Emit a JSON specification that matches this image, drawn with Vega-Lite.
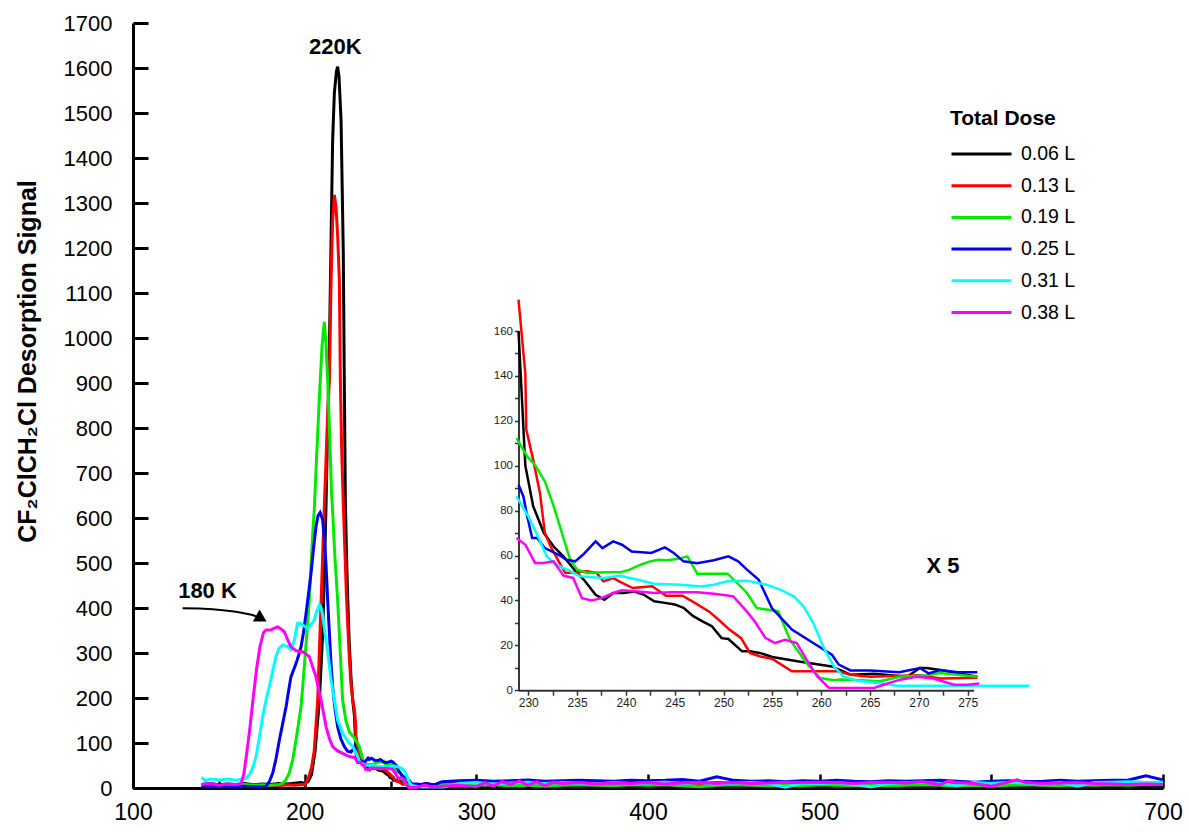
{
"$schema": "https://vega.github.io/schema/vega-lite/v6.json",
"width": 1030, "height": 765,
"autosize": "none",
"padding": {"left": 133, "top": 23, "right": 26, "bottom": 44},
"background": "white",
"config": {"view": {"stroke": null}, "font": "Liberation Sans", "axis": {"grid": false}},
"datasets": {
"main": [
{"dose":"0.06 L","T":140,"S":8},{"dose":"0.06 L","T":145,"S":10},{"dose":"0.06 L","T":150,"S":7},{"dose":"0.06 L","T":155,"S":9},{"dose":"0.06 L","T":160,"S":8},{"dose":"0.06 L","T":165,"S":10},{"dose":"0.06 L","T":170,"S":7},{"dose":"0.06 L","T":175,"S":9},{"dose":"0.06 L","T":180,"S":8},{"dose":"0.06 L","T":185,"S":10},{"dose":"0.06 L","T":190,"S":9},{"dose":"0.06 L","T":195,"S":11},{"dose":"0.06 L","T":198,"S":12},{"dose":"0.06 L","T":200,"S":10},{"dose":"0.06 L","T":202,"S":14},{"dose":"0.06 L","T":204,"S":30},{"dose":"0.06 L","T":206,"S":80},{"dose":"0.06 L","T":208.6,"S":196},{"dose":"0.06 L","T":210.5,"S":344},{"dose":"0.06 L","T":211.5,"S":480},{"dose":"0.06 L","T":212.5,"S":640},{"dose":"0.06 L","T":213.5,"S":820},{"dose":"0.06 L","T":214.5,"S":1000},{"dose":"0.06 L","T":215.5,"S":1250},{"dose":"0.06 L","T":216.3,"S":1440},{"dose":"0.06 L","T":217.3,"S":1545},{"dose":"0.06 L","T":218.5,"S":1592},{"dose":"0.06 L","T":219.2,"S":1603},{"dose":"0.06 L","T":220,"S":1582},{"dose":"0.06 L","T":221.2,"S":1484},{"dose":"0.06 L","T":222.5,"S":1189},{"dose":"0.06 L","T":223.1,"S":900},{"dose":"0.06 L","T":223.7,"S":640},{"dose":"0.06 L","T":224.3,"S":530},{"dose":"0.06 L","T":225,"S":430},{"dose":"0.06 L","T":226,"S":320},{"dose":"0.06 L","T":227,"S":245},{"dose":"0.06 L","T":228,"S":195},{"dose":"0.06 L","T":229,"S":160},{"dose":"0.06 L","T":229.7,"S":100},{"dose":"0.06 L","T":230.5,"S":82},{"dose":"0.06 L","T":231.6,"S":70},{"dose":"0.06 L","T":232.6,"S":64},{"dose":"0.06 L","T":233.6,"S":59.6},{"dose":"0.06 L","T":235,"S":52.2},{"dose":"0.06 L","T":235.7,"S":49.2},{"dose":"0.06 L","T":236.9,"S":42.5},{"dose":"0.06 L","T":237.8,"S":40.3},{"dose":"0.06 L","T":238.7,"S":43.3},{"dose":"0.06 L","T":239.8,"S":43.3},{"dose":"0.06 L","T":240.8,"S":44},{"dose":"0.06 L","T":241.8,"S":42.6},{"dose":"0.06 L","T":242.9,"S":39.6},{"dose":"0.06 L","T":244,"S":38.9},{"dose":"0.06 L","T":245,"S":38.2},{"dose":"0.06 L","T":245.9,"S":36.7},{"dose":"0.06 L","T":246.9,"S":33},{"dose":"0.06 L","T":247.8,"S":30.8},{"dose":"0.06 L","T":248.8,"S":28.5},{"dose":"0.06 L","T":249.8,"S":23.2},{"dose":"0.06 L","T":250.5,"S":22.8},{"dose":"0.06 L","T":251.9,"S":17.3},{"dose":"0.06 L","T":252.7,"S":17.3},{"dose":"0.06 L","T":253.7,"S":16.6},{"dose":"0.06 L","T":255,"S":14.8},{"dose":"0.06 L","T":257.7,"S":12.8},{"dose":"0.06 L","T":261.1,"S":10.6},{"dose":"0.06 L","T":263,"S":6.9},{"dose":"0.06 L","T":265.4,"S":7.3},{"dose":"0.06 L","T":268.8,"S":6},{"dose":"0.06 L","T":270.1,"S":9.9},{"dose":"0.06 L","T":270.8,"S":9.9},{"dose":"0.06 L","T":272.2,"S":9},{"dose":"0.06 L","T":276,"S":6},
{"dose":"0.06 L","T":280,"S":6},{"dose":"0.06 L","T":290,"S":5},{"dose":"0.06 L","T":300,"S":4},{"dose":"0.06 L","T":310,"S":6},{"dose":"0.06 L","T":320,"S":5},{"dose":"0.06 L","T":330,"S":4},{"dose":"0.06 L","T":340,"S":6},{"dose":"0.06 L","T":350,"S":5},{"dose":"0.06 L","T":360,"S":4},{"dose":"0.06 L","T":370,"S":5},{"dose":"0.06 L","T":380,"S":6},{"dose":"0.06 L","T":390,"S":4},{"dose":"0.06 L","T":400,"S":5},{"dose":"0.06 L","T":410,"S":6},{"dose":"0.06 L","T":420,"S":4},{"dose":"0.06 L","T":430,"S":5},{"dose":"0.06 L","T":440,"S":6},{"dose":"0.06 L","T":450,"S":4},{"dose":"0.06 L","T":460,"S":5},{"dose":"0.06 L","T":470,"S":5},{"dose":"0.06 L","T":480,"S":4},{"dose":"0.06 L","T":490,"S":6},{"dose":"0.06 L","T":500,"S":5},{"dose":"0.06 L","T":510,"S":4},{"dose":"0.06 L","T":520,"S":5},{"dose":"0.06 L","T":530,"S":6},{"dose":"0.06 L","T":540,"S":4},{"dose":"0.06 L","T":550,"S":5},{"dose":"0.06 L","T":560,"S":5},{"dose":"0.06 L","T":570,"S":4},{"dose":"0.06 L","T":580,"S":6},{"dose":"0.06 L","T":590,"S":5},{"dose":"0.06 L","T":600,"S":4},{"dose":"0.06 L","T":610,"S":5},{"dose":"0.06 L","T":620,"S":6},{"dose":"0.06 L","T":630,"S":4},{"dose":"0.06 L","T":640,"S":5},{"dose":"0.06 L","T":650,"S":6},{"dose":"0.06 L","T":660,"S":4},{"dose":"0.06 L","T":670,"S":5},{"dose":"0.06 L","T":680,"S":6},{"dose":"0.06 L","T":690,"S":5},{"dose":"0.06 L","T":700,"S":5},

{"dose":"0.13 L","T":140,"S":5},{"dose":"0.13 L","T":145,"S":7},{"dose":"0.13 L","T":150,"S":6},{"dose":"0.13 L","T":155,"S":4},{"dose":"0.13 L","T":160,"S":6},{"dose":"0.13 L","T":165,"S":5},{"dose":"0.13 L","T":170,"S":7},{"dose":"0.13 L","T":175,"S":5},{"dose":"0.13 L","T":180,"S":6},{"dose":"0.13 L","T":185,"S":5},{"dose":"0.13 L","T":190,"S":7},{"dose":"0.13 L","T":195,"S":6},{"dose":"0.13 L","T":198,"S":8},{"dose":"0.13 L","T":200,"S":7},{"dose":"0.13 L","T":202,"S":20},{"dose":"0.13 L","T":204,"S":45},{"dose":"0.13 L","T":205.6,"S":84},{"dose":"0.13 L","T":207.6,"S":196},{"dose":"0.13 L","T":209.6,"S":418},{"dose":"0.13 L","T":211.5,"S":630},{"dose":"0.13 L","T":213,"S":790},{"dose":"0.13 L","T":214.4,"S":907},{"dose":"0.13 L","T":215.4,"S":1129},{"dose":"0.13 L","T":216.3,"S":1260},{"dose":"0.13 L","T":217.3,"S":1318},{"dose":"0.13 L","T":218.3,"S":1290},{"dose":"0.13 L","T":219.3,"S":1220},{"dose":"0.13 L","T":220.2,"S":1129},{"dose":"0.13 L","T":220.8,"S":907},{"dose":"0.13 L","T":221.5,"S":760},{"dose":"0.13 L","T":222.5,"S":630},{"dose":"0.13 L","T":223.5,"S":520},{"dose":"0.13 L","T":224.3,"S":430},{"dose":"0.13 L","T":225,"S":370},{"dose":"0.13 L","T":226,"S":290},{"dose":"0.13 L","T":227,"S":230},{"dose":"0.13 L","T":228,"S":195},{"dose":"0.13 L","T":229,"S":174},{"dose":"0.13 L","T":229.7,"S":141},{"dose":"0.13 L","T":229.8,"S":116},{"dose":"0.13 L","T":230.5,"S":102.7},{"dose":"0.13 L","T":231.2,"S":87.8},{"dose":"0.13 L","T":231.7,"S":70},{"dose":"0.13 L","T":232.3,"S":64},{"dose":"0.13 L","T":233.3,"S":55.9},{"dose":"0.13 L","T":233.8,"S":52.2},{"dose":"0.13 L","T":235,"S":52.5},{"dose":"0.13 L","T":236,"S":53},{"dose":"0.13 L","T":237,"S":52.2},{"dose":"0.13 L","T":237.7,"S":48.5},{"dose":"0.13 L","T":238.7,"S":50},{"dose":"0.13 L","T":239.3,"S":48.5},{"dose":"0.13 L","T":240.7,"S":45.5},{"dose":"0.13 L","T":242.7,"S":46.3},{"dose":"0.13 L","T":244.1,"S":42.1},{"dose":"0.13 L","T":245.8,"S":42.1},{"dose":"0.13 L","T":247.1,"S":38.8},{"dose":"0.13 L","T":248.5,"S":35.1},{"dose":"0.13 L","T":249.5,"S":31.4},{"dose":"0.13 L","T":250.6,"S":27},{"dose":"0.13 L","T":251.8,"S":23.2},{"dose":"0.13 L","T":252.7,"S":16.6},{"dose":"0.13 L","T":253.7,"S":15.1},{"dose":"0.13 L","T":255,"S":13.9},{"dose":"0.13 L","T":257,"S":8.4},{"dose":"0.13 L","T":261.7,"S":8.4},{"dose":"0.13 L","T":263,"S":6.9},{"dose":"0.13 L","T":265,"S":6},{"dose":"0.13 L","T":270.1,"S":6.7},{"dose":"0.13 L","T":272.2,"S":5.2},{"dose":"0.13 L","T":276,"S":5.5},
{"dose":"0.13 L","T":280,"S":12},{"dose":"0.13 L","T":290,"S":10},{"dose":"0.13 L","T":300,"S":8},{"dose":"0.13 L","T":310,"S":10},{"dose":"0.13 L","T":320,"S":13},{"dose":"0.13 L","T":330,"S":11},{"dose":"0.13 L","T":340,"S":12},{"dose":"0.13 L","T":350,"S":10},{"dose":"0.13 L","T":360,"S":12},{"dose":"0.13 L","T":370,"S":14},{"dose":"0.13 L","T":380,"S":11},{"dose":"0.13 L","T":390,"S":12},{"dose":"0.13 L","T":400,"S":13},{"dose":"0.13 L","T":410,"S":11},{"dose":"0.13 L","T":420,"S":12},{"dose":"0.13 L","T":430,"S":10},{"dose":"0.13 L","T":440,"S":12},{"dose":"0.13 L","T":450,"S":11},{"dose":"0.13 L","T":460,"S":13},{"dose":"0.13 L","T":470,"S":12},{"dose":"0.13 L","T":480,"S":10},{"dose":"0.13 L","T":490,"S":14},{"dose":"0.13 L","T":500,"S":12},{"dose":"0.13 L","T":510,"S":11},{"dose":"0.13 L","T":520,"S":12},{"dose":"0.13 L","T":530,"S":13},{"dose":"0.13 L","T":540,"S":11},{"dose":"0.13 L","T":550,"S":10},{"dose":"0.13 L","T":560,"S":12},{"dose":"0.13 L","T":570,"S":11},{"dose":"0.13 L","T":580,"S":12},{"dose":"0.13 L","T":590,"S":10},{"dose":"0.13 L","T":600,"S":11},{"dose":"0.13 L","T":610,"S":12},{"dose":"0.13 L","T":620,"S":15},{"dose":"0.13 L","T":630,"S":11},{"dose":"0.13 L","T":640,"S":12},{"dose":"0.13 L","T":650,"S":13},{"dose":"0.13 L","T":660,"S":11},{"dose":"0.13 L","T":670,"S":12},{"dose":"0.13 L","T":680,"S":13},{"dose":"0.13 L","T":690,"S":12},{"dose":"0.13 L","T":700,"S":11},

{"dose":"0.19 L","T":140,"S":6},{"dose":"0.19 L","T":145,"S":8},{"dose":"0.19 L","T":150,"S":5},{"dose":"0.19 L","T":155,"S":7},{"dose":"0.19 L","T":160,"S":6},{"dose":"0.19 L","T":165,"S":8},{"dose":"0.19 L","T":170,"S":6},{"dose":"0.19 L","T":175,"S":7},{"dose":"0.19 L","T":180,"S":6},{"dose":"0.19 L","T":185,"S":8},{"dose":"0.19 L","T":187.2,"S":10},{"dose":"0.19 L","T":189,"S":18},{"dose":"0.19 L","T":191,"S":33},{"dose":"0.19 L","T":193,"S":62},{"dose":"0.19 L","T":195,"S":107},{"dose":"0.19 L","T":197.9,"S":181},{"dose":"0.19 L","T":199.8,"S":270},{"dose":"0.19 L","T":201.3,"S":345},{"dose":"0.19 L","T":202.7,"S":418},{"dose":"0.19 L","T":204.7,"S":566},{"dose":"0.19 L","T":205.6,"S":618},{"dose":"0.19 L","T":207,"S":740},{"dose":"0.19 L","T":208.6,"S":870},{"dose":"0.19 L","T":210.1,"S":981},{"dose":"0.19 L","T":211.4,"S":1036},{"dose":"0.19 L","T":212.3,"S":995},{"dose":"0.19 L","T":213.4,"S":907},{"dose":"0.19 L","T":214.8,"S":758},{"dose":"0.19 L","T":215.6,"S":660},{"dose":"0.19 L","T":216.5,"S":600},{"dose":"0.19 L","T":217.5,"S":520},{"dose":"0.19 L","T":219.2,"S":418},{"dose":"0.19 L","T":220.5,"S":320},{"dose":"0.19 L","T":222.1,"S":196},{"dose":"0.19 L","T":224,"S":150},{"dose":"0.19 L","T":226,"S":125},{"dose":"0.19 L","T":228,"S":115},{"dose":"0.19 L","T":228.8,"S":112.3},{"dose":"0.19 L","T":229.9,"S":104},{"dose":"0.19 L","T":230.7,"S":100.3},{"dose":"0.19 L","T":231.7,"S":93},{"dose":"0.19 L","T":232.6,"S":82},{"dose":"0.19 L","T":233.6,"S":67.8},{"dose":"0.19 L","T":234.3,"S":58.1},{"dose":"0.19 L","T":235,"S":53.7},{"dose":"0.19 L","T":236,"S":52.2},{"dose":"0.19 L","T":238.1,"S":52.5},{"dose":"0.19 L","T":239.4,"S":52.5},{"dose":"0.19 L","T":240.4,"S":53.7},{"dose":"0.19 L","T":241.5,"S":55.9},{"dose":"0.19 L","T":242.5,"S":57.4},{"dose":"0.19 L","T":243.3,"S":58.1},{"dose":"0.19 L","T":244.2,"S":57.9},{"dose":"0.19 L","T":245.2,"S":58.4},{"dose":"0.19 L","T":246.3,"S":59.6},{"dose":"0.19 L","T":247.3,"S":51.9},{"dose":"0.19 L","T":248.3,"S":51.9},{"dose":"0.19 L","T":250.4,"S":51.9},{"dose":"0.19 L","T":251.4,"S":47.7},{"dose":"0.19 L","T":252.4,"S":43.3},{"dose":"0.19 L","T":253.4,"S":36.6},{"dose":"0.19 L","T":255.6,"S":35.1},{"dose":"0.19 L","T":256.8,"S":22.5},{"dose":"0.19 L","T":258.5,"S":12},{"dose":"0.19 L","T":259.9,"S":5.4},{"dose":"0.19 L","T":261.3,"S":4.4},{"dose":"0.19 L","T":262,"S":4.8},{"dose":"0.19 L","T":264,"S":4.4},{"dose":"0.19 L","T":266,"S":4},{"dose":"0.19 L","T":268.1,"S":6},{"dose":"0.19 L","T":270.8,"S":6.7},{"dose":"0.19 L","T":272.2,"S":7.7},{"dose":"0.19 L","T":276,"S":6},
{"dose":"0.19 L","T":280,"S":7},{"dose":"0.19 L","T":290,"S":8},{"dose":"0.19 L","T":300,"S":6},{"dose":"0.19 L","T":310,"S":7},{"dose":"0.19 L","T":320,"S":5},{"dose":"0.19 L","T":330,"S":6},{"dose":"0.19 L","T":340,"S":4},{"dose":"0.19 L","T":350,"S":6},{"dose":"0.19 L","T":360,"S":7},{"dose":"0.19 L","T":370,"S":6},{"dose":"0.19 L","T":380,"S":5},{"dose":"0.19 L","T":390,"S":7},{"dose":"0.19 L","T":400,"S":6},{"dose":"0.19 L","T":410,"S":7},{"dose":"0.19 L","T":420,"S":5},{"dose":"0.19 L","T":430,"S":3},{"dose":"0.19 L","T":440,"S":6},{"dose":"0.19 L","T":450,"S":7},{"dose":"0.19 L","T":460,"S":6},{"dose":"0.19 L","T":470,"S":5},{"dose":"0.19 L","T":480,"S":6},{"dose":"0.19 L","T":490,"S":5},{"dose":"0.19 L","T":500,"S":7},{"dose":"0.19 L","T":510,"S":6},{"dose":"0.19 L","T":520,"S":5},{"dose":"0.19 L","T":530,"S":6},{"dose":"0.19 L","T":540,"S":5},{"dose":"0.19 L","T":550,"S":6},{"dose":"0.19 L","T":560,"S":7},{"dose":"0.19 L","T":570,"S":6},{"dose":"0.19 L","T":580,"S":5},{"dose":"0.19 L","T":590,"S":6},{"dose":"0.19 L","T":600,"S":4},{"dose":"0.19 L","T":610,"S":6},{"dose":"0.19 L","T":620,"S":7},{"dose":"0.19 L","T":630,"S":6},{"dose":"0.19 L","T":640,"S":5},{"dose":"0.19 L","T":650,"S":7},{"dose":"0.19 L","T":660,"S":6},{"dose":"0.19 L","T":670,"S":7},{"dose":"0.19 L","T":680,"S":6},{"dose":"0.19 L","T":690,"S":8},{"dose":"0.19 L","T":700,"S":9},

{"dose":"0.25 L","T":140,"S":4},{"dose":"0.25 L","T":145,"S":3},{"dose":"0.25 L","T":150,"S":5},{"dose":"0.25 L","T":155,"S":3},{"dose":"0.25 L","T":160,"S":2},{"dose":"0.25 L","T":165,"S":4},{"dose":"0.25 L","T":170,"S":3},{"dose":"0.25 L","T":175,"S":2},{"dose":"0.25 L","T":177.5,"S":4},{"dose":"0.25 L","T":179.5,"S":15},{"dose":"0.25 L","T":181.4,"S":33},{"dose":"0.25 L","T":183.3,"S":65},{"dose":"0.25 L","T":185.3,"S":107},{"dose":"0.25 L","T":187.3,"S":145},{"dose":"0.25 L","T":189.2,"S":181},{"dose":"0.25 L","T":190.6,"S":215},{"dose":"0.25 L","T":192,"S":247},{"dose":"0.25 L","T":193.5,"S":262},{"dose":"0.25 L","T":195,"S":277},{"dose":"0.25 L","T":196.5,"S":295},{"dose":"0.25 L","T":197.9,"S":314},{"dose":"0.25 L","T":199.3,"S":345},{"dose":"0.25 L","T":200.8,"S":388},{"dose":"0.25 L","T":202.2,"S":430},{"dose":"0.25 L","T":203.7,"S":477},{"dose":"0.25 L","T":205.1,"S":530},{"dose":"0.25 L","T":206.6,"S":581},{"dose":"0.25 L","T":207.8,"S":605},{"dose":"0.25 L","T":209,"S":612},{"dose":"0.25 L","T":210.5,"S":596},{"dose":"0.25 L","T":211.5,"S":550},{"dose":"0.25 L","T":212.5,"S":492},{"dose":"0.25 L","T":213.5,"S":410},{"dose":"0.25 L","T":214.4,"S":344},{"dose":"0.25 L","T":215.3,"S":280},{"dose":"0.25 L","T":216.3,"S":225},{"dose":"0.25 L","T":217.7,"S":175},{"dose":"0.25 L","T":219.2,"S":136},{"dose":"0.25 L","T":221,"S":110},{"dose":"0.25 L","T":223.1,"S":92},{"dose":"0.25 L","T":225,"S":82},{"dose":"0.25 L","T":227,"S":80},{"dose":"0.25 L","T":228.3,"S":86},{"dose":"0.25 L","T":229,"S":91.5},{"dose":"0.25 L","T":229.5,"S":86.3},{"dose":"0.25 L","T":229.9,"S":77.4},{"dose":"0.25 L","T":230.4,"S":67.8},{"dose":"0.25 L","T":230.9,"S":67.8},{"dose":"0.25 L","T":231.7,"S":63.3},{"dose":"0.25 L","T":232.4,"S":61.8},{"dose":"0.25 L","T":233.4,"S":59.6},{"dose":"0.25 L","T":233.9,"S":58.1},{"dose":"0.25 L","T":234.8,"S":57.4},{"dose":"0.25 L","T":235.6,"S":60.3},{"dose":"0.25 L","T":236.9,"S":66.3},{"dose":"0.25 L","T":237.6,"S":63.3},{"dose":"0.25 L","T":238.7,"S":66.3},{"dose":"0.25 L","T":239.6,"S":64.8},{"dose":"0.25 L","T":240.6,"S":61.8},{"dose":"0.25 L","T":242.6,"S":61.1},{"dose":"0.25 L","T":244,"S":63.6},{"dose":"0.25 L","T":244.9,"S":61.1},{"dose":"0.25 L","T":245.9,"S":57.4},{"dose":"0.25 L","T":247.3,"S":56.6},{"dose":"0.25 L","T":249,"S":57.9},{"dose":"0.25 L","T":250.5,"S":59.6},{"dose":"0.25 L","T":251.5,"S":57.4},{"dose":"0.25 L","T":252.4,"S":53.7},{"dose":"0.25 L","T":253.6,"S":49.2},{"dose":"0.25 L","T":254.95,"S":36.6},{"dose":"0.25 L","T":257,"S":27},{"dose":"0.25 L","T":260,"S":18.8},{"dose":"0.25 L","T":261.1,"S":15.8},{"dose":"0.25 L","T":261.8,"S":11.4},{"dose":"0.25 L","T":263,"S":8.8},{"dose":"0.25 L","T":265,"S":8.8},{"dose":"0.25 L","T":268,"S":8},{"dose":"0.25 L","T":270.1,"S":9.9},{"dose":"0.25 L","T":271,"S":7.5},{"dose":"0.25 L","T":272.2,"S":9},{"dose":"0.25 L","T":274,"S":8},{"dose":"0.25 L","T":276,"S":8},
{"dose":"0.25 L","T":280,"S":14},{"dose":"0.25 L","T":290,"S":16},{"dose":"0.25 L","T":300,"S":17},{"dose":"0.25 L","T":310,"S":15},{"dose":"0.25 L","T":320,"S":16},{"dose":"0.25 L","T":330,"S":18},{"dose":"0.25 L","T":340,"S":15},{"dose":"0.25 L","T":350,"S":16},{"dose":"0.25 L","T":360,"S":17},{"dose":"0.25 L","T":370,"S":16},{"dose":"0.25 L","T":380,"S":15},{"dose":"0.25 L","T":390,"S":17},{"dose":"0.25 L","T":400,"S":16},{"dose":"0.25 L","T":410,"S":17},{"dose":"0.25 L","T":420,"S":19},{"dose":"0.25 L","T":430,"S":15},{"dose":"0.25 L","T":440,"S":25},{"dose":"0.25 L","T":450,"S":17},{"dose":"0.25 L","T":460,"S":15},{"dose":"0.25 L","T":470,"S":16},{"dose":"0.25 L","T":480,"S":14},{"dose":"0.25 L","T":490,"S":16},{"dose":"0.25 L","T":500,"S":15},{"dose":"0.25 L","T":510,"S":17},{"dose":"0.25 L","T":520,"S":15},{"dose":"0.25 L","T":530,"S":14},{"dose":"0.25 L","T":540,"S":16},{"dose":"0.25 L","T":550,"S":15},{"dose":"0.25 L","T":560,"S":16},{"dose":"0.25 L","T":570,"S":17},{"dose":"0.25 L","T":580,"S":15},{"dose":"0.25 L","T":590,"S":13},{"dose":"0.25 L","T":600,"S":15},{"dose":"0.25 L","T":610,"S":16},{"dose":"0.25 L","T":620,"S":14},{"dose":"0.25 L","T":630,"S":15},{"dose":"0.25 L","T":640,"S":17},{"dose":"0.25 L","T":650,"S":15},{"dose":"0.25 L","T":660,"S":16},{"dose":"0.25 L","T":670,"S":17},{"dose":"0.25 L","T":680,"S":18},{"dose":"0.25 L","T":690,"S":27},{"dose":"0.25 L","T":700,"S":18},

{"dose":"0.31 L","T":140,"S":24},{"dose":"0.31 L","T":142,"S":16},{"dose":"0.31 L","T":145,"S":20},{"dose":"0.31 L","T":150,"S":18},{"dose":"0.31 L","T":155,"S":20},{"dose":"0.31 L","T":160,"S":17},{"dose":"0.31 L","T":163,"S":19},{"dose":"0.31 L","T":166,"S":22},{"dose":"0.31 L","T":168,"S":30},{"dose":"0.31 L","T":170,"S":48},{"dose":"0.31 L","T":171.7,"S":70},{"dose":"0.31 L","T":173.5,"S":110},{"dose":"0.31 L","T":175.5,"S":158},{"dose":"0.31 L","T":177.5,"S":195},{"dose":"0.31 L","T":179.4,"S":225},{"dose":"0.31 L","T":181.5,"S":262},{"dose":"0.31 L","T":183.3,"S":292},{"dose":"0.31 L","T":185,"S":310},{"dose":"0.31 L","T":187.2,"S":318},{"dose":"0.31 L","T":190.1,"S":314},{"dose":"0.31 L","T":192,"S":307},{"dose":"0.31 L","T":194,"S":329},{"dose":"0.31 L","T":195.9,"S":366},{"dose":"0.31 L","T":197.5,"S":366},{"dose":"0.31 L","T":198.8,"S":362},{"dose":"0.31 L","T":201.7,"S":355},{"dose":"0.31 L","T":203.5,"S":362},{"dose":"0.31 L","T":205.6,"S":373},{"dose":"0.31 L","T":207,"S":392},{"dose":"0.31 L","T":208.6,"S":407},{"dose":"0.31 L","T":209.6,"S":400},{"dose":"0.31 L","T":210.5,"S":384},{"dose":"0.31 L","T":212,"S":340},{"dose":"0.31 L","T":213.4,"S":303},{"dose":"0.31 L","T":215.4,"S":240},{"dose":"0.31 L","T":217.3,"S":196},{"dose":"0.31 L","T":219.2,"S":151},{"dose":"0.31 L","T":222.1,"S":122},{"dose":"0.31 L","T":224,"S":110},{"dose":"0.31 L","T":226,"S":100},{"dose":"0.31 L","T":228,"S":92},{"dose":"0.31 L","T":228.8,"S":86.3},{"dose":"0.31 L","T":230,"S":77.4},{"dose":"0.31 L","T":231,"S":68.5},{"dose":"0.31 L","T":231.9,"S":59.6},{"dose":"0.31 L","T":232.8,"S":55.9},{"dose":"0.31 L","T":234,"S":53.7},{"dose":"0.31 L","T":235.3,"S":50.7},{"dose":"0.31 L","T":237.7,"S":50},{"dose":"0.31 L","T":239.4,"S":51},{"dose":"0.31 L","T":241.2,"S":49.2},{"dose":"0.31 L","T":242.9,"S":47.4},{"dose":"0.31 L","T":245.6,"S":47},{"dose":"0.31 L","T":247.7,"S":46.2},{"dose":"0.31 L","T":249,"S":47},{"dose":"0.31 L","T":250.4,"S":48.5},{"dose":"0.31 L","T":252.4,"S":48.8},{"dose":"0.31 L","T":254.4,"S":47},{"dose":"0.31 L","T":255.8,"S":44.8},{"dose":"0.31 L","T":257.2,"S":41.8},{"dose":"0.31 L","T":258.2,"S":37.3},{"dose":"0.31 L","T":259.2,"S":29.9},{"dose":"0.31 L","T":260.2,"S":19.5},{"dose":"0.31 L","T":261.3,"S":10.6},{"dose":"0.31 L","T":262.3,"S":6.1},{"dose":"0.31 L","T":263.6,"S":4.3},{"dose":"0.31 L","T":266,"S":3.1},{"dose":"0.31 L","T":267.7,"S":2},{"dose":"0.31 L","T":281.3,"S":2},
{"dose":"0.31 L","T":290,"S":10},{"dose":"0.31 L","T":300,"S":12},{"dose":"0.31 L","T":310,"S":9},{"dose":"0.31 L","T":320,"S":11},{"dose":"0.31 L","T":330,"S":13},{"dose":"0.31 L","T":340,"S":10},{"dose":"0.31 L","T":350,"S":12},{"dose":"0.31 L","T":360,"S":11},{"dose":"0.31 L","T":370,"S":9},{"dose":"0.31 L","T":380,"S":12},{"dose":"0.31 L","T":390,"S":10},{"dose":"0.31 L","T":400,"S":11},{"dose":"0.31 L","T":410,"S":13},{"dose":"0.31 L","T":420,"S":10},{"dose":"0.31 L","T":430,"S":12},{"dose":"0.31 L","T":440,"S":9},{"dose":"0.31 L","T":450,"S":11},{"dose":"0.31 L","T":460,"S":12},{"dose":"0.31 L","T":470,"S":10},{"dose":"0.31 L","T":480,"S":2},{"dose":"0.31 L","T":490,"S":11},{"dose":"0.31 L","T":500,"S":10},{"dose":"0.31 L","T":510,"S":12},{"dose":"0.31 L","T":520,"S":8},{"dose":"0.31 L","T":530,"S":2},{"dose":"0.31 L","T":540,"S":10},{"dose":"0.31 L","T":550,"S":12},{"dose":"0.31 L","T":560,"S":13},{"dose":"0.31 L","T":570,"S":10},{"dose":"0.31 L","T":580,"S":5},{"dose":"0.31 L","T":590,"S":12},{"dose":"0.31 L","T":600,"S":10},{"dose":"0.31 L","T":610,"S":13},{"dose":"0.31 L","T":620,"S":11},{"dose":"0.31 L","T":630,"S":9},{"dose":"0.31 L","T":640,"S":12},{"dose":"0.31 L","T":650,"S":4},{"dose":"0.31 L","T":660,"S":12},{"dose":"0.31 L","T":670,"S":13},{"dose":"0.31 L","T":680,"S":14},{"dose":"0.31 L","T":690,"S":12},{"dose":"0.31 L","T":700,"S":13},

{"dose":"0.38 L","T":140,"S":8},{"dose":"0.38 L","T":145,"S":10},{"dose":"0.38 L","T":150,"S":6},{"dose":"0.38 L","T":155,"S":9},{"dose":"0.38 L","T":160,"S":7},{"dose":"0.38 L","T":163,"S":10},{"dose":"0.38 L","T":164.5,"S":30},{"dose":"0.38 L","T":166,"S":70},{"dose":"0.38 L","T":168,"S":130},{"dose":"0.38 L","T":170,"S":200},{"dose":"0.38 L","T":172,"S":265},{"dose":"0.38 L","T":174,"S":315},{"dose":"0.38 L","T":176,"S":345},{"dose":"0.38 L","T":177.5,"S":351},{"dose":"0.38 L","T":180.4,"S":351},{"dose":"0.38 L","T":182,"S":355},{"dose":"0.38 L","T":184.3,"S":358},{"dose":"0.38 L","T":186,"S":354},{"dose":"0.38 L","T":188.2,"S":347},{"dose":"0.38 L","T":190,"S":330},{"dose":"0.38 L","T":192,"S":314},{"dose":"0.38 L","T":195,"S":305},{"dose":"0.38 L","T":198.8,"S":303},{"dose":"0.38 L","T":202.7,"S":292},{"dose":"0.38 L","T":205,"S":265},{"dose":"0.38 L","T":206.6,"S":247},{"dose":"0.38 L","T":208,"S":222},{"dose":"0.38 L","T":209.5,"S":196},{"dose":"0.38 L","T":211,"S":166},{"dose":"0.38 L","T":212.5,"S":136},{"dose":"0.38 L","T":214.4,"S":110},{"dose":"0.38 L","T":216.3,"S":92},{"dose":"0.38 L","T":219,"S":83},{"dose":"0.38 L","T":222.1,"S":77},{"dose":"0.38 L","T":226,"S":70},{"dose":"0.38 L","T":228.8,"S":67.8},{"dose":"0.38 L","T":229.7,"S":64.8},{"dose":"0.38 L","T":230.7,"S":56.7},{"dose":"0.38 L","T":231.6,"S":56.7},{"dose":"0.38 L","T":232.6,"S":57.4},{"dose":"0.38 L","T":233.6,"S":51},{"dose":"0.38 L","T":234.6,"S":50},{"dose":"0.38 L","T":235.5,"S":41},{"dose":"0.38 L","T":236.5,"S":40},{"dose":"0.38 L","T":237.5,"S":41},{"dose":"0.38 L","T":238.7,"S":43.3},{"dose":"0.38 L","T":239.6,"S":44.5},{"dose":"0.38 L","T":241.2,"S":44},{"dose":"0.38 L","T":242.9,"S":43.3},{"dose":"0.38 L","T":244.6,"S":43.6},{"dose":"0.38 L","T":247.3,"S":43.6},{"dose":"0.38 L","T":249,"S":43},{"dose":"0.38 L","T":250.4,"S":42.2},{"dose":"0.38 L","T":251,"S":41.8},{"dose":"0.38 L","T":252.4,"S":35},{"dose":"0.38 L","T":253.2,"S":30.6},{"dose":"0.38 L","T":254.3,"S":23.2},{"dose":"0.38 L","T":255.3,"S":21},{"dose":"0.38 L","T":256.3,"S":22.5},{"dose":"0.38 L","T":257.5,"S":21},{"dose":"0.38 L","T":258.5,"S":13.6},{"dose":"0.38 L","T":259.6,"S":6.1},{"dose":"0.38 L","T":260.8,"S":1},{"dose":"0.38 L","T":265.4,"S":1},{"dose":"0.38 L","T":266.4,"S":2.4},{"dose":"0.38 L","T":268.1,"S":4.7},{"dose":"0.38 L","T":269.8,"S":6},{"dose":"0.38 L","T":271.5,"S":5.2},{"dose":"0.38 L","T":273.6,"S":2.4},{"dose":"0.38 L","T":275,"S":2.4},{"dose":"0.38 L","T":276.2,"S":3},
{"dose":"0.38 L","T":280,"S":4},{"dose":"0.38 L","T":290,"S":6},{"dose":"0.38 L","T":300,"S":3},{"dose":"0.38 L","T":305,"S":12},{"dose":"0.38 L","T":310,"S":4},{"dose":"0.38 L","T":315,"S":14},{"dose":"0.38 L","T":320,"S":8},{"dose":"0.38 L","T":325,"S":16},{"dose":"0.38 L","T":330,"S":6},{"dose":"0.38 L","T":335,"S":14},{"dose":"0.38 L","T":340,"S":5},{"dose":"0.38 L","T":345,"S":13},{"dose":"0.38 L","T":350,"S":10},{"dose":"0.38 L","T":360,"S":12},{"dose":"0.38 L","T":370,"S":9},{"dose":"0.38 L","T":380,"S":11},{"dose":"0.38 L","T":390,"S":10},{"dose":"0.38 L","T":400,"S":12},{"dose":"0.38 L","T":410,"S":9},{"dose":"0.38 L","T":420,"S":11},{"dose":"0.38 L","T":430,"S":13},{"dose":"0.38 L","T":440,"S":10},{"dose":"0.38 L","T":450,"S":12},{"dose":"0.38 L","T":460,"S":10},{"dose":"0.38 L","T":470,"S":11},{"dose":"0.38 L","T":480,"S":13},{"dose":"0.38 L","T":490,"S":12},{"dose":"0.38 L","T":500,"S":13},{"dose":"0.38 L","T":510,"S":12},{"dose":"0.38 L","T":520,"S":10},{"dose":"0.38 L","T":530,"S":12},{"dose":"0.38 L","T":540,"S":13},{"dose":"0.38 L","T":550,"S":11},{"dose":"0.38 L","T":560,"S":14},{"dose":"0.38 L","T":570,"S":7},{"dose":"0.38 L","T":575,"S":16},{"dose":"0.38 L","T":580,"S":12},{"dose":"0.38 L","T":590,"S":10},{"dose":"0.38 L","T":600,"S":4},{"dose":"0.38 L","T":610,"S":13},{"dose":"0.38 L","T":615,"S":18},{"dose":"0.38 L","T":620,"S":12},{"dose":"0.38 L","T":630,"S":10},{"dose":"0.38 L","T":640,"S":11},{"dose":"0.38 L","T":650,"S":12},{"dose":"0.38 L","T":660,"S":10},{"dose":"0.38 L","T":670,"S":9},{"dose":"0.38 L","T":680,"S":8},{"dose":"0.38 L","T":690,"S":9},{"dose":"0.38 L","T":700,"S":8}
],
"arrow": [
{"T":128.9,"S":399.3},{"T":138.6,"S":398.9},{"T":146.4,"S":397.1},{"T":153.8,"S":394.4},{"T":160.0,"S":391.8},{"T":165.4,"S":387.8},{"T":169.7,"S":384.4},{"T":172.4,"S":380}
],
"head": [{"T":174.8,"S":376.7}],
"notes": [
{"T":217.9,"S":1647,"label":"220K"},
{"T":143.4,"S":438,"label":"180 K"},
{"T":571.9,"S":493,"label":"X 5"}
]
},
"layer": [
{
"layer": [
{
"data": {"name": "main"},
"mark": {"type": "line", "strokeWidth": 3},
"encoding": {
"x": {"field": "T", "type": "quantitative",
 "scale": {"domain": [100, 700], "nice": false, "zero": false},
 "axis": {"title": null, "values": [100,150,200,250,300,350,400,450,500,550,600,650,700],
  "format": "d", "labelExpr": "datum.value % 100 === 0 ? datum.label : ''",
  "tickSize": {"condition": {"test": "datum.value % 100 === 0", "value": -14}, "value": -7},
  "tickWidth": 2.5, "tickColor": "black", "domainColor": "black", "domainWidth": 3,
  "labelFontSize": 23, "labelColor": "black", "labelFont": "Liberation Sans", "labelPadding": 27,
  "labelFlush": false, "labelOverlap": false, "labelBound": false}},
"y": {"field": "S", "type": "quantitative",
 "scale": {"domain": [0, 1700], "nice": false, "zero": true},
 "axis": {"title": "CF₂ClCH₂Cl Desorption Signal", "values": [0,50,100,150,200,250,300,350,400,450,500,550,600,650,700,750,800,850,900,950,1000,1050,1100,1150,1200,1250,1300,1350,1400,1450,1500,1550,1600,1650,1700],
  "format": "d", "labelExpr": "datum.value % 100 === 0 ? datum.label : ''",
  "tickSize": {"condition": {"test": "datum.value % 100 === 0", "value": -15}, "value": -8},
  "tickWidth": 3, "tickColor": "black", "domainColor": "black", "domainWidth": 3,
  "labelFontSize": 22, "labelColor": "black", "labelFont": "Liberation Sans", "labelPadding": 36,
  "labelOverlap": false, "labelBound": false,
  "titleFont": "'Liberation Sans Narrow', 'Liberation Sans'", "titleFontSize": 25, "titleFontWeight": "bold", "titleColor": "black",
  "titleX": -106, "titleY": 338, "titleBaseline": "middle", "titleAlign": "center", "titleAngle": -90}},
"color": {"field": "dose", "type": "nominal",
 "scale": {"domain": ["0.06 L","0.13 L","0.19 L","0.25 L","0.31 L","0.38 L"], "range": ["#000000","#ff0000","#00ea00","#0000f0","#00ffff","#ff00ff"]},
 "legend": {"orient": "none", "legendX": 817, "legendY": 85, "title": "Total Dose",
  "titleFontSize": 21, "titleFontWeight": "bold", "titleFont": "Liberation Sans", "titleColor": "black", "titlePadding": 13,
  "labelFontSize": 19.5, "labelFont": "Liberation Sans", "labelColor": "black", "labelOffset": 8,
  "symbolType": "stroke", "symbolSize": 3600, "symbolStrokeWidth": 3, "clipHeight": 24, "rowPadding": 7.7, "padding": 0}}
}
},
{
"data": {"name": "arrow"},
"mark": {"type": "line", "color": "black", "strokeWidth": 2},
"encoding": {"x": {"field": "T", "type": "quantitative"}, "y": {"field": "S", "type": "quantitative"}}
},
{
"data": {"name": "head"},
"mark": {"type": "point", "shape": "triangle-right", "filled": true, "color": "black", "size": 190, "angle": 29, "opacity": 1},
"encoding": {"x": {"field": "T", "type": "quantitative"}, "y": {"field": "S", "type": "quantitative"}}
},
{
"data": {"name": "notes"},
"mark": {"type": "text", "font": "Liberation Sans", "fontWeight": "bold", "fontSize": 22, "color": "black", "align": "center", "baseline": "middle"},
"encoding": {"x": {"field": "T", "type": "quantitative"}, "y": {"field": "S", "type": "quantitative"}, "text": {"field": "label"}}
}
]
},
{
"data": {"name": "main"},
"transform": [{"filter": "datum.T >= 228.7 && (datum.T <= 276.5 || (datum.dose === '0.31 L' && datum.T <= 282))"}],
"mark": {"type": "line", "strokeWidth": 2.5},
"encoding": {
"x": {"field": "T", "type": "quantitative",
 "scale": {"domain": [229, 275.6], "range": [385.5, 840.5], "nice": false, "zero": false},
 "axis": {"orient": "bottom", "offset": -97.8, "title": null,
  "values": [230,232.5,235,237.5,240,242.5,245,247.5,250,252.5,255,257.5,260,262.5,265,267.5,270,272.5,275],
  "format": "d", "labelExpr": "datum.value % 5 === 0 ? datum.label : ''",
  "tickSize": 5, "tickWidth": 1.5, "tickColor": "#333333", "domainColor": "#333333", "domainWidth": 2,
  "labelFontSize": 12, "labelColor": "#222222", "labelFont": "Liberation Sans", "labelPadding": 2,
  "labelFlush": false, "labelOverlap": false, "labelBound": false}},
"y": {"field": "S", "type": "quantitative",
 "scale": {"domain": [0, 160], "range": [667.2, 308], "nice": false, "zero": true},
 "axis": {"orient": "left", "offset": -385.5, "title": null,
  "values": [0,10,20,30,40,50,60,70,80,90,100,110,120,130,140,150,160],
  "format": "d", "labelExpr": "datum.value % 20 === 0 ? datum.label : ''",
  "tickSize": 4, "tickWidth": 1.5, "tickColor": "#333333", "domainColor": "#222222", "domainWidth": 1.8,
  "labelFontSize": 11.5, "labelColor": "#222222", "labelFont": "Liberation Sans", "labelPadding": 2,
  "labelOverlap": false, "labelBound": false}},
"color": {"field": "dose", "type": "nominal", "legend": null}
}
}
],
"resolve": {"scale": {"x": "independent", "y": "independent"}}
}
